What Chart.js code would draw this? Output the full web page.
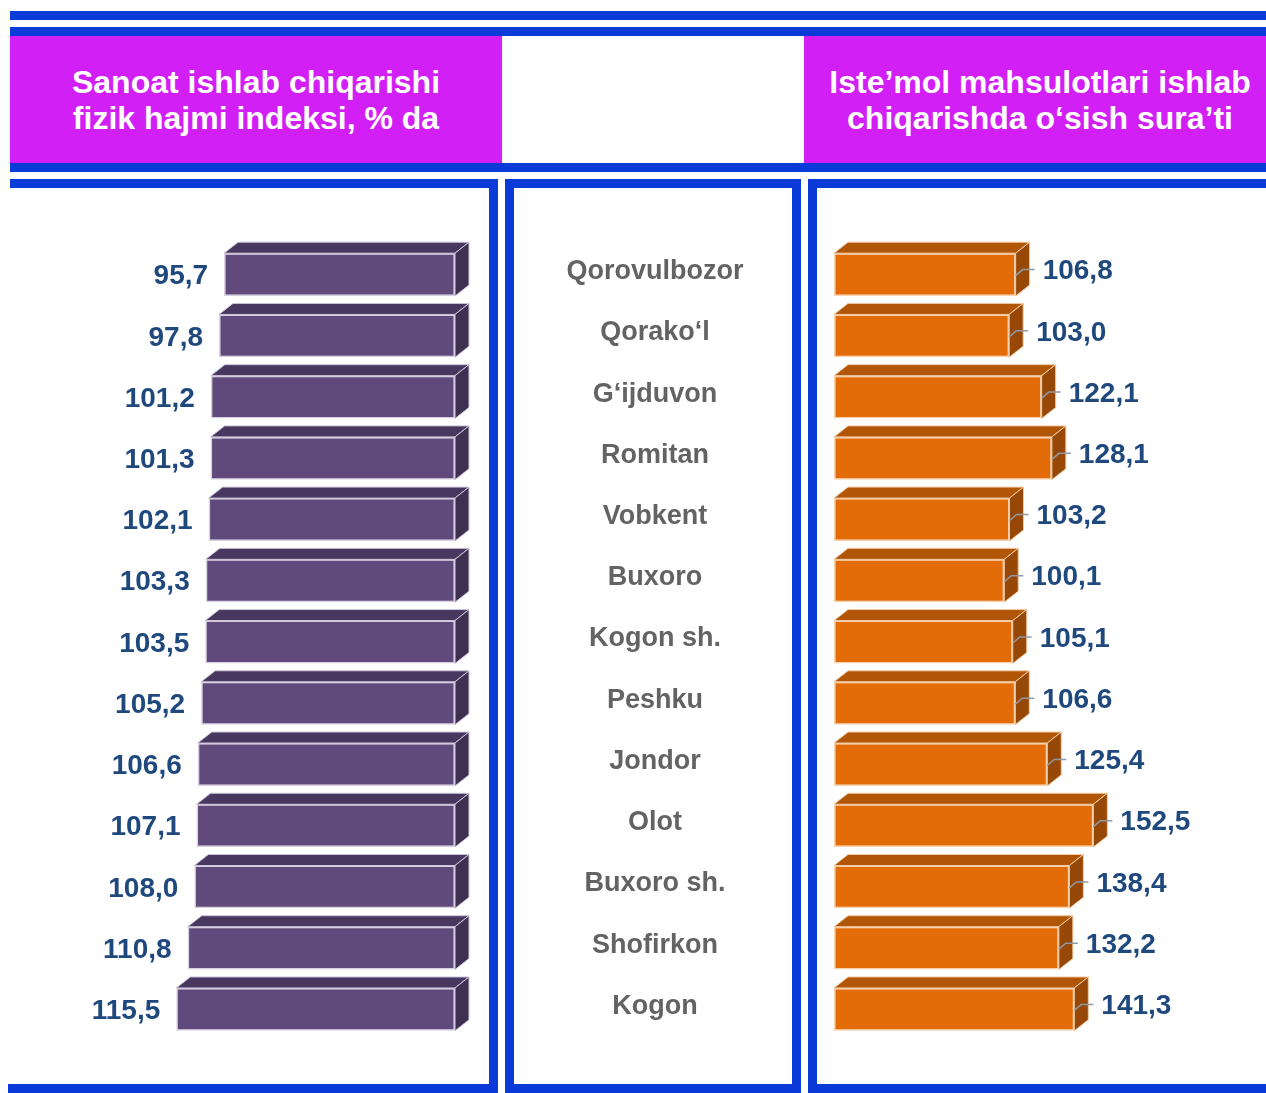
<!DOCTYPE html>
<html>
<head>
<meta charset="utf-8">
<title>Sanoat ishlab chiqarishi va iste’mol mahsulotlari</title>
<script src="https://cdn.jsdelivr.net/npm/chart.js@4.4.0/dist/chart.umd.min.js"></script>
<style>
  body { margin: 0; background: #fff; }
  #page { position: relative; width: 1266px; height: 1093px; overflow: hidden; font-family: "Liberation Sans", Arial, sans-serif; }
  .blue { position: absolute; background: #0a3ad8; z-index: 2; }
  .head { position: absolute; top: 36px; height: 127px; background: #d21ff6; color: #fff; font-weight: bold;
          font-size: 32px; line-height: 36px; display: flex; align-items: center; justify-content: center;
          text-align: center; box-sizing: border-box; }
  canvas { position: absolute; }
</style>
</head>
<body>
<div id="page">
  <div class="head" style="left:10px;width:492px;">Sanoat ishlab chiqarishi<br>fizik hajmi indeksi, % da</div>
  <div class="head" style="left:804px;width:462px;padding-left:10px;">Iste’mol mahsulotlari ishlab<br>chiqarishda o‘sish sura’ti</div>

  <canvas id="leftChart" width="480" height="890" style="left:10px;top:190px;"></canvas>
  <canvas id="rightChart" width="761" height="890" style="left:505px;top:190px;"></canvas>

  <!-- blue frame lines -->
  <div class="blue" style="left:10px;top:11px;width:1256px;height:9px;"></div>
  <div class="blue" style="left:10px;top:27px;width:1256px;height:9px;"></div>
  <div class="blue" style="left:10px;top:163px;width:1256px;height:9px;"></div>

  <div class="blue" style="left:10px;top:179px;width:488px;height:9px;"></div>
  <div class="blue" style="left:489px;top:179px;width:9px;height:914px;"></div>
  <div class="blue" style="left:8px;top:1084px;width:490px;height:9px;"></div>

  <div class="blue" style="left:505px;top:179px;width:296px;height:9px;"></div>
  <div class="blue" style="left:505px;top:179px;width:9px;height:914px;"></div>
  <div class="blue" style="left:792px;top:179px;width:9px;height:914px;"></div>
  <div class="blue" style="left:505px;top:1084px;width:296px;height:9px;"></div>

  <div class="blue" style="left:808px;top:179px;width:458px;height:9px;"></div>
  <div class="blue" style="left:808px;top:179px;width:9px;height:914px;"></div>
  <div class="blue" style="left:808px;top:1084px;width:458px;height:9px;"></div>
</div>

<script>
const districts = [
  "Qorovulbozor", "Qorako‘l", "G‘ijduvon", "Romitan", "Vobkent", "Buxoro", "Kogon sh.",
  "Peshku", "Jondor", "Olot", "Buxoro sh.", "Shofirkon", "Kogon"
];
const industryIndex = [95.7, 97.8, 101.2, 101.3, 102.1, 103.3, 103.5, 105.2, 106.6, 107.1, 108.0, 110.8, 115.5];
const consumerGrowth = [106.8, 103.0, 122.1, 128.1, 103.2, 100.1, 105.1, 106.6, 125.4, 152.5, 138.4, 132.2, 141.3];

const valueColor = "#1f497d";
const valueFont = "bold 28px 'Liberation Sans', Arial, sans-serif";
const nameFont = "bold 27px 'Liberation Sans', Arial, sans-serif";

function fmt(v) {
  return v.toFixed(1).replace(".", ",");
}

// top and side faces so the flat bars look like boxes
function boxFaces(topColor, sideColor, edgeColor) {
  return {
    id: "boxFaces",
    afterDatasetsDraw(chart) {
      const ctx = chart.ctx;
      const dx = 14, dy = 11;
      chart.getDatasetMeta(0).data.forEach(bar => {
        const l = Math.min(bar.x, bar.base), r = Math.max(bar.x, bar.base);
        const t = bar.y - bar.height / 2, b = bar.y + bar.height / 2;
        ctx.save();
        ctx.lineWidth = 1;
        ctx.strokeStyle = edgeColor;
        ctx.fillStyle = topColor;
        ctx.beginPath();
        ctx.moveTo(l, t); ctx.lineTo(l + dx, t - dy); ctx.lineTo(r + dx, t - dy); ctx.lineTo(r, t);
        ctx.closePath();
        ctx.fill(); ctx.stroke();
        ctx.fillStyle = sideColor;
        ctx.beginPath();
        ctx.moveTo(r, t); ctx.lineTo(r + dx, t - dy); ctx.lineTo(r + dx, b - dy); ctx.lineTo(r, b);
        ctx.closePath();
        ctx.fill(); ctx.stroke();
        ctx.restore();
      });
    }
  };
}

const leftLabels = {
  id: "leftLabels",
  afterDatasetsDraw(chart) {
    const ctx = chart.ctx;
    ctx.save();
    ctx.font = valueFont;
    ctx.fillStyle = valueColor;
    ctx.textAlign = "right";
    ctx.textBaseline = "middle";
    chart.getDatasetMeta(0).data.forEach((bar, i) => {
      ctx.fillText(fmt(industryIndex[i]), bar.x - 16, bar.y + 2);
    });
    ctx.restore();
  }
};

const rightLabels = {
  id: "rightLabels",
  afterDatasetsDraw(chart) {
    const ctx = chart.ctx;
    ctx.save();
    chart.getDatasetMeta(0).data.forEach((bar, i) => {
      // small leader line from the bar end to the label
      ctx.strokeStyle = "#8e9aa5";
      ctx.lineWidth = 1.5;
      ctx.beginPath();
      ctx.moveTo(bar.x, bar.y + 1);
      ctx.lineTo(bar.x + 7, bar.y - 5);
      ctx.lineTo(bar.x + 19, bar.y - 5);
      ctx.stroke();
      ctx.font = valueFont;
      ctx.fillStyle = valueColor;
      ctx.textAlign = "left";
      ctx.textBaseline = "middle";
      ctx.fillText(fmt(consumerGrowth[i]), bar.x + 27, bar.y - 3);
    });
    ctx.restore();
  }
};

// district names sit in the middle panel, on the category rows
const districtNames = {
  id: "districtNames",
  afterDraw(chart) {
    const ctx = chart.ctx;
    const y = chart.scales.y;
    ctx.save();
    ctx.font = nameFont;
    ctx.fillStyle = "#636363";
    ctx.textAlign = "center";
    ctx.textBaseline = "middle";
    districts.forEach((name, i) => {
      ctx.fillText(name, 150, y.getPixelForValue(i) - 3);
    });
    ctx.restore();
  }
};

function baseOptions(reverse, max, padding) {
  return {
    indexAxis: "y",
    responsive: false,
    animation: false,
    layout: { padding: padding },
    plugins: { legend: { display: false }, tooltip: { enabled: false } },
    scales: {
      x: { type: "linear", reverse: reverse, min: 0, max: max, display: false },
      y: { type: "category", display: false }
    }
  };
}

new Chart(document.getElementById("leftChart"), {
  type: "bar",
  data: {
    labels: districts,
    datasets: [{
      data: industryIndex,
      backgroundColor: "#604a7b",
      borderColor: "#d9d0e3",
      borderWidth: 1.5,
      borderSkipped: false,
      categoryPercentage: 1,
      barPercentage: 0.7
    }]
  },
  options: baseOptions(true, 184.4, { left: 0, right: 35, top: 54, bottom: 40 }),
  plugins: [boxFaces("#48375e", "#3f3052", "#cfc5db"), leftLabels]
});

new Chart(document.getElementById("rightChart"), {
  type: "bar",
  data: {
    labels: districts,
    datasets: [{
      data: consumerGrowth,
      backgroundColor: "#e36c09",
      borderColor: "#f7d2ae",
      borderWidth: 1.5,
      borderSkipped: false,
      categoryPercentage: 1,
      barPercentage: 0.7
    }]
  },
  options: baseOptions(false, 254, { left: 329, right: 0, top: 54, bottom: 40 }),
  plugins: [boxFaces("#b15507", "#984806", "#f3cba5"), rightLabels, districtNames]
});
</script>
</body>
</html>
